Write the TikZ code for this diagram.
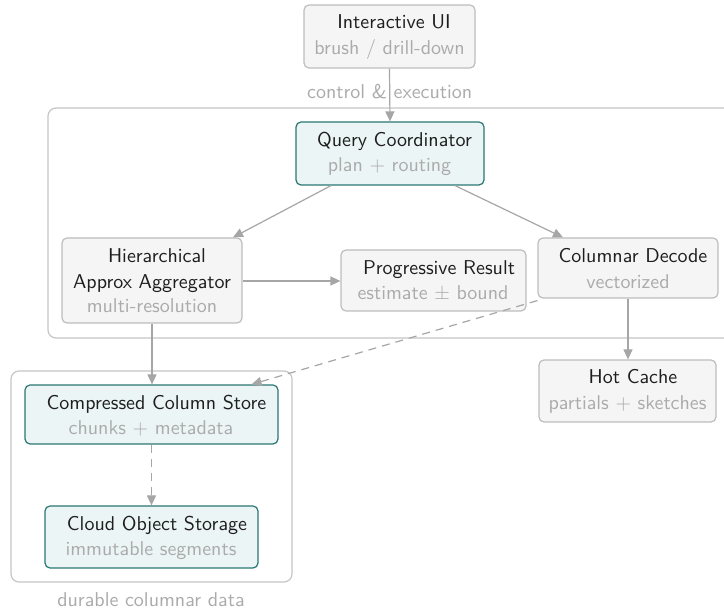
\documentclass[tikz,border=0pt]{standalone}
\usetikzlibrary{arrows.meta}
\definecolor{gfill}{HTML}{F5F5F5}
\definecolor{gline}{HTML}{BDBDBD}
\definecolor{tfill}{HTML}{ECF5F6}
\definecolor{tline}{HTML}{2A7772}
\definecolor{sub}{HTML}{ABABAB}
\definecolor{ttl}{HTML}{1E1E1E}
\definecolor{edge}{HTML}{A6A6A6}
\definecolor{cont}{HTML}{C6C6C6}
\tikzset{
  box/.style={rectangle, rounded corners=2.5pt, line width=0.6pt, inner sep=0pt},
  gbox/.style={box, draw=gline, fill=gfill},
  tbox/.style={box, draw=tline, fill=tfill},
  ttext/.style={text=ttl, font=\sffamily, inner sep=0pt, anchor=base, yshift=-1pt},
  stext/.style={text=sub, font=\sffamily, inner sep=0pt, anchor=base, yshift=-1pt},
  ltext/.style={text=sub, font=\sffamily, inner sep=0pt},
  container/.style={draw=cont, line width=0.6pt, rounded corners=4pt},
  conn/.style={draw=edge, line width=0.6pt, -{Triangle[length=5pt,width=4.5pt]}},
  dconn/.style={conn, dash pattern=on 4pt off 3pt},
}
\begin{document}
\begin{tikzpicture}[x=0.5pt,y=-0.5pt]
\useasboundingbox (0,0) rectangle (724,613);
\clip (0,0) rectangle (724,613);
\fill[white] (0,0) rectangle (724,613);
% containers
\draw[container] (48,108) rectangle (760,338);
\draw[container] (11,371) rectangle (292,582);
\node[ltext] (lbl2) at (151,600) {durable columnar data};
% boxes
\node[gbox, minimum width=85.5pt, minimum height=31.5pt] (ui) at (389.5,36.5) {};
\node[ttext] at (394,27) {Interactive UI};
\node[stext] at (389.5,53) {brush / drill-down};

\node[tbox, minimum width=94pt, minimum height=31.5pt] (qc) at (390,153.5) {};
\node[ttext] at (394.5,145) {Query Coordinator};
\node[stext] at (389.5,170) {plan + routing};

\node[gbox, minimum width=90pt, minimum height=42.5pt] (haa) at (152,280.5) {};
\node[ttext] at (157,261) {Hierarchical};
\node[ttext] at (152,287) {Approx Aggregator};
\node[stext] at (152,311) {multi-resolution};

\node[gbox, minimum width=92.5pt, minimum height=30.5pt] (pr) at (433.5,280.5) {};
\node[ttext] at (439,273) {Progressive Result};
\node[stext] at (433,298) {estimate $\pm$ bound};

\node[gbox, minimum width=90pt, minimum height=30pt] (cd) at (628,268) {};
\node[ttext] at (633,261) {Columnar Decode};
\node[stext] at (628,287) {vectorized};

\node[gbox, minimum width=88.5pt, minimum height=31pt] (hc) at (627.5,391) {};
\node[ttext] at (633,382) {Hot Cache};
\node[stext] at (627.5,408) {partials + sketches};

\node[tbox, minimum width=126.5pt, minimum height=29.5pt] (ccs) at (151.5,414.5) {};
\node[ttext] at (156.5,408) {Compressed Column Store};
\node[stext] at (151,433) {chunks + metadata};

\node[tbox, minimum width=106.5pt, minimum height=31pt] (cos) at (151.5,537) {};
\node[ttext] at (157,529) {Cloud Object Storage};
\node[stext] at (151,554) {immutable segments};

% connectors
\draw[conn] (ui.south) -- node[ltext, pos=0.44] {control \& execution} (qc.north);
\draw[conn] ([xshift=-29.5pt]qc.south) -- ([xshift=40.5pt]haa.north);
\draw[conn] ([xshift=32.5pt]qc.south) -- ([xshift=-32.5pt]cd.north);
\draw[conn] (haa.east |- 0,281) -- (pr.west |- 0,281);
\draw[conn] (haa.south) -- (ccs.north -| haa.south);
\draw[dconn] ([yshift=-1pt]cd.south west) -- ([xshift=50pt]ccs.north);
\draw[conn] (cd.south) -- (hc.north -| cd.south);
\draw[dconn] (ccs.south) -- (cos.north);
\end{tikzpicture}
\end{document}
